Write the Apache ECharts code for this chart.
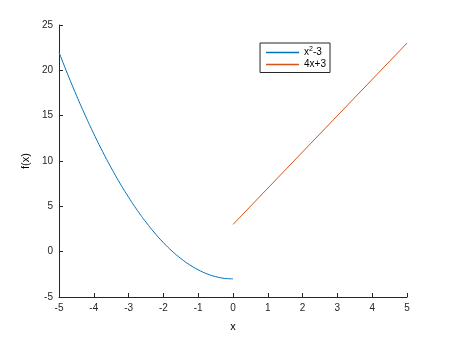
<!DOCTYPE html>
<html><head><meta charset="utf-8">
<script src="https://cdn.jsdelivr.net/npm/echarts@6/dist/echarts.min.js"></script>
<style>html,body{margin:0;padding:0;background:#fff}#c{width:450px;height:337px}</style>
</head><body><div id="c"></div>
<script>
var xTicks = [-5,-4,-3,-2,-1,0,1,2,3,4,5];
var yTicks = [-5,0,5,10,15,20,25];
var quadX = [-5,-4.75,-4.5,-4.25,-4,-3.75,-3.5,-3.25,-3,-2.75,-2.5,-2.25,-2,-1.75,-1.5,-1.25,-1,-0.75,-0.5,-0.25,0];
var quadY = [22,19.56,17.25,15.06,13,11.06,9.25,7.56,6,4.56,3.25,2.06,1,0.06,-0.75,-1.44,-2,-2.44,-2.75,-2.94,-3];
var linX = [0,5];
var linY = [3,23];
var names = ['x{sup|2}-3','4x+3'];
var colors = ['#0072BD','#D95319'];

function pairs(xs, ys){ return xs.map(function(x,i){return [x, ys[i]];}); }
var font = 'Liberation Sans, Arial, sans-serif';
var axisCol = '#262626';
var chart = echarts.init(document.getElementById('c'));
chart.setOption({
  animation:false,
  grid:{left:59,right:43,top:25,bottom:38},
  legend:{
    right:120, top:43, orient:'vertical',
    borderColor:'#262626', borderWidth:1, backgroundColor:'#fff',
    padding:[3,4,3,6], itemGap:2, itemWidth:33, itemHeight:12,
    icon:'path://M0,0L100,0L100,4L0,4Z',
    itemStyle:{borderWidth:0},
    textStyle:{fontFamily:font,fontSize:10,color:'#000',
      rich:{sup:{fontSize:7,verticalAlign:'top',padding:[0,0,6,0],fontFamily:font,color:'#000'}}},
    data:[{name:names[0],itemStyle:{color:colors[0]}},{name:names[1],itemStyle:{color:colors[1]}}]
  },
  xAxis:{
    type:'value', min:-5, max:5, interval:1,
    name:'x', nameLocation:'middle', nameGap:24,
    nameTextStyle:{fontFamily:font,fontSize:11,color:'#000'},
    axisLine:{onZero:false,lineStyle:{color:axisCol,width:1}},
    axisTick:{inside:true,length:4,lineStyle:{color:axisCol}},
    axisLabel:{fontFamily:font,fontSize:10,color:'#262626',margin:6},
    splitLine:{show:false}
  },
  yAxis:{
    type:'value', min:-5, max:25, interval:5,
    name:'f(x)', nameLocation:'middle', nameGap:23, nameRotate:90,
    nameTextStyle:{fontFamily:font,fontSize:11,color:'#000'},
    axisLine:{show:true,onZero:false,lineStyle:{color:axisCol,width:1}},
    axisTick:{show:true,inside:true,length:4,lineStyle:{color:axisCol}},
    axisLabel:{fontFamily:font,fontSize:10,color:'#262626',margin:6},
    splitLine:{show:false}
  },
  series:[
    {name:names[0],type:'line',data:pairs(quadX,quadY),smooth:true,symbol:'none',
     lineStyle:{color:colors[0],width:1},itemStyle:{color:colors[0]}},
    {name:names[1],type:'line',data:pairs(linX,linY),symbol:'none',
     lineStyle:{color:colors[1],width:1},itemStyle:{color:colors[1]}}
  ]
});
</script></body></html>
